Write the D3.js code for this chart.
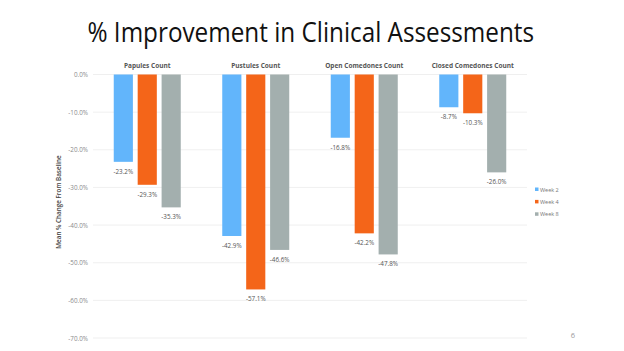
<!DOCTYPE html>
<html><head><meta charset="utf-8">
<script src="https://cdn.jsdelivr.net/npm/d3@7"></script>
<style>body{margin:0;background:#fff}svg{display:block}</style>
</head><body>
<script>
const categories = ["Papules Count","Pustules Count","Open Comedones Count","Closed Comedones Count"];
const seriesNames = ["Week 2","Week 4","Week 8"];
const week2 = [-23.2,-42.9,-16.8,-8.7];
const week4 = [-29.3,-57.1,-42.2,-10.3];
const week8 = [-35.3,-46.6,-47.8,-26.0];
const yTicks = [0,-10,-20,-30,-40,-50,-60,-70];
const colors = ["#62B5FB","#F46519","#A3AFAE"];
const seriesVals = [week2,week4,week8];
const pct = v => (v.toFixed(1)+"%");

const W=624,H=351;
const svg=d3.select("body").append("svg").attr("width",W).attr("height",H);

svg.append("text").attr("x",87.5).attr("y",42)
  .attr("font-family","Open Sans").attr("font-size",26.5).attr("fill","#111")
  .attr("textLength",446.5).attr("lengthAdjust","spacingAndGlyphs")
  .text("% Improvement in Clinical Assessments");

const x=d3.scaleBand().domain(categories).range([93,527]);
const y=d3.scaleLinear().domain([0,-70]).range([74.5,338]);
const xs=d3.scaleBand().domain(seriesNames).range([-33.5,33.5]).paddingInner(0.2);

svg.append("g").selectAll("line").data(yTicks).join("line")
  .attr("x1",93).attr("x2",527).attr("y1",d=>y(d)).attr("y2",d=>y(d))
  .attr("stroke","#ebebeb").attr("stroke-width",0.8);

const yAxis=d3.axisLeft(y).tickValues(yTicks).tickFormat(pct).tickSize(0).tickPadding(0);
const ya=svg.append("g").attr("transform","translate(88,0)").call(yAxis);
ya.select(".domain").remove();
ya.selectAll("text").attr("font-family","Open Sans").attr("font-size",6.3).attr("fill","#8a8a8a");

svg.append("text").attr("transform","translate(61,202) rotate(-90)").attr("text-anchor","middle")
  .attr("font-family","Open Sans").attr("font-size",6.3).attr("font-weight",600).attr("fill","#444")
  .text("Mean % Change From Baseline");

svg.selectAll("text.cat").data(categories).join("text").attr("class","cat")
  .attr("x",d=>x(d)+x.bandwidth()/2).attr("y",68).attr("text-anchor","middle")
  .attr("font-family","Open Sans").attr("font-size",6.5).attr("font-weight",700).attr("fill","#555")
  .text(d=>d);

seriesNames.forEach((s,si)=>{
  const data=categories.map((c,i)=>({c,v:seriesVals[si][i]}));
  svg.selectAll("rect.s"+si).data(data).join("rect")
    .attr("x",d=>x(d.c)+x.bandwidth()/2+xs(s)).attr("width",xs.bandwidth())
    .attr("y",y(0)).attr("height",d=>y(d.v)-y(0)).attr("fill",colors[si]);
  svg.selectAll("text.l"+si).data(data).join("text")
    .attr("x",d=>x(d.c)+x.bandwidth()/2+xs(s)+xs.bandwidth()/2).attr("y",d=>y(d.v)+12)
    .attr("text-anchor","middle").attr("font-family","Open Sans").attr("font-size",6.3).attr("fill","#555")
    .text(d=>pct(d.v));
});

const lg=svg.append("g");
seriesNames.forEach((s,i)=>{
  const yy=189.5+i*12.4;
  lg.append("rect").attr("x",535).attr("y",yy-2).attr("width",3.5).attr("height",3.5).attr("fill",colors[i]);
  lg.append("text").attr("x",540).attr("y",yy+2).attr("font-family","Open Sans").attr("font-size",5.5).attr("fill","#777").text(s);
});

svg.append("text").attr("x",573).attr("y",338).attr("text-anchor","middle").attr("font-family","Open Sans")
  .attr("font-size",7.5).attr("fill","#999").text("6");
</script>
</body></html>
